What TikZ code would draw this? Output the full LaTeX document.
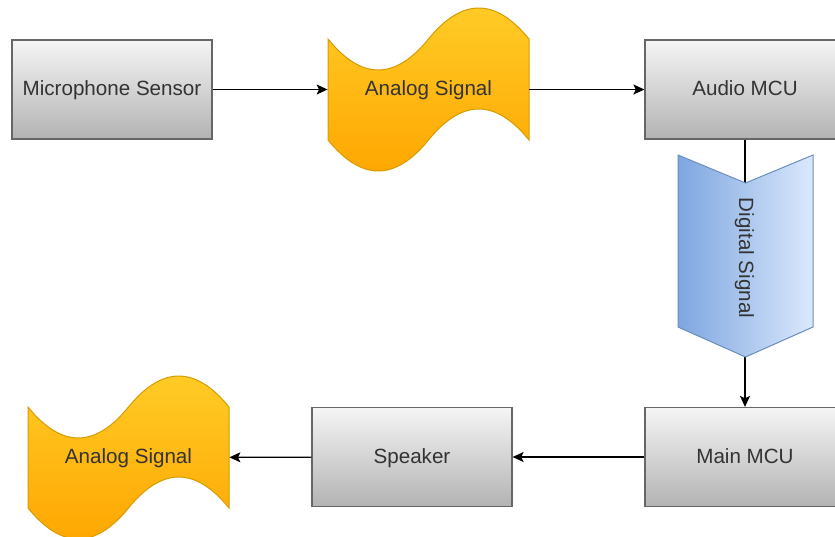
\documentclass[tikz,border=0pt]{standalone}
\usepackage{fontspec}
\setmainfont{Liberation Sans}
\usetikzlibrary{arrows.meta}
\definecolor{boxtop}{HTML}{F5F5F5}
\definecolor{boxbottom}{HTML}{B3B3B3}
\definecolor{boxline}{HTML}{666666}
\definecolor{boxtext}{HTML}{333333}
\definecolor{tapetop}{HTML}{FFCD28}
\definecolor{tapebottom}{HTML}{FFA500}
\definecolor{tapeline}{HTML}{D79B00}
\definecolor{chevdark}{HTML}{7EA6E0}
\definecolor{chevlight}{HTML}{DAE8FC}
\definecolor{chevline}{HTML}{6C8EBF}
\begin{document}
\begin{tikzpicture}
    [
    x=0.5pt, y=-0.5pt,
    every node/.style={font=\fontsize{10.3}{12.4}\selectfont, text=boxtext, text height=1.6ex, text depth=0.4ex},
    unit/.style={rectangle, draw=boxline, line width=0.6pt, top color=boxtop, bottom color=boxbottom, minimum width=100pt, minimum height=49.5pt, align=center},
    signal/.style={rectangle, minimum width=100.5pt, minimum height=50.5pt, align=center},
    arrow/.style={-{Stealth[length=5.5pt, width=5pt, inset=1.2pt]}, line width=0.6pt},
    pics/wavetape/.style={code={
        \shadedraw[top color=tapetop, bottom color=tapebottom, draw=tapeline, line width=0.5pt]
            (-100.5,-50.5) .. controls (-67,-9.2) and (-33.5,-9.2) .. (0,-50.5)
            .. controls (33.5,-91.8) and (67,-91.8) .. (100.5,-50.5)
            -- (100.5,50.5) .. controls (67,9.2) and (33.5,9.2) .. (0,50.5)
            .. controls (-33.5,91.8) and (-67,91.8) .. (-100.5,50.5) -- cycle;
    }}
    ]
    \useasboundingbox (0,0) rectangle (835,536);

% Input row
    \node[unit] (mic) at (112,89.5) {Microphone Sensor};
    \pic at (428.5,89.5) {wavetape};
    \node[signal] (analog_in) at (428.5,89.5) {Analog Signal};
    \node[unit] (audio_mcu) at (745,89.5) {Audio MCU};

% Output row
    \node[unit] (main_mcu) at (745,457) {Main MCU};
    \node[unit] (speaker) at (412,457) {Speaker};
    \pic at (128.5,457.5) {wavetape};
    \node[signal] (analog_out) at (128.5,457.5) {Analog Signal};

% Arrows
    \draw[arrow] (mic) -- (analog_in);
    \draw[arrow] (analog_in) -- (audio_mcu);
    \draw[arrow] (audio_mcu) -- (main_mcu);
    \draw[arrow] (main_mcu) -- (speaker);
    \draw[arrow] (speaker) -- (analog_out);

% Digital signal step
    \shadedraw[left color=chevdark, right color=chevlight, draw=chevline, line width=0.5pt]
        (678,155) -- (745.5,183) -- (813,155) -- (813,327) -- (745.5,357) -- (678,327) -- cycle;
    \node[rotate=-90] (digital) at (745.5,258) {Digital Signal};

\end{tikzpicture}
\end{document}
